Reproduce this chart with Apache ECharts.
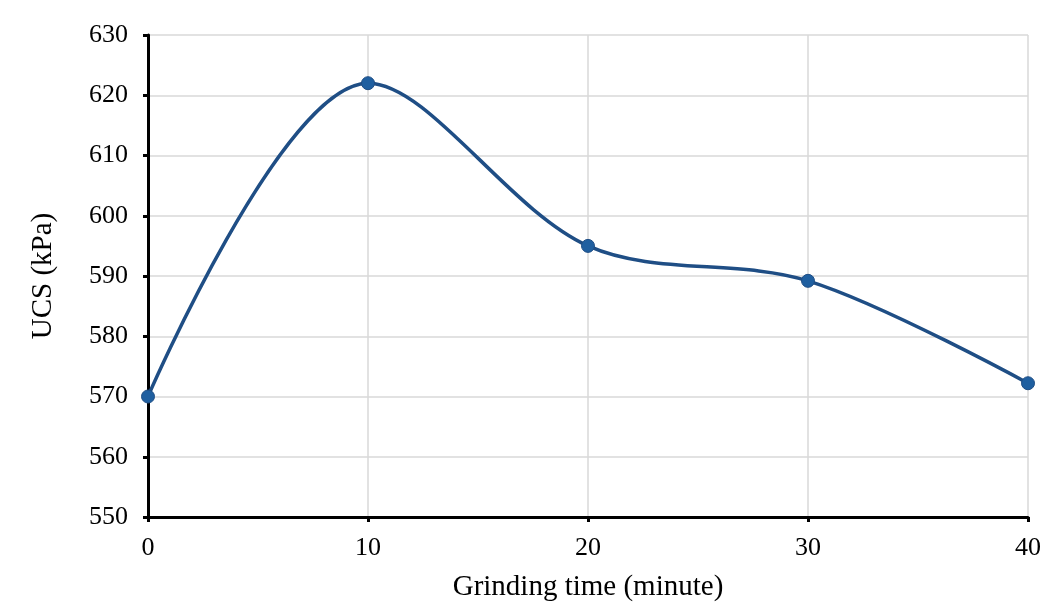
<!DOCTYPE html>
<html>
<head>
<meta charset="utf-8">
<script src="https://cdn.jsdelivr.net/npm/echarts@6/dist/echarts.min.js"></script>
<style>
html,body{margin:0;padding:0;background:#fff;}
#main{width:1049px;height:612px;}
</style>
</head>
<body>
<div id="main"></div>
<script>
var grindTime = [0, 10, 20, 30, 40];
var ucs = [570, 622, 595, 589.2, 572.2];

var font = 'Liberation Serif';
var myChart = echarts.init(document.getElementById('main'));
var option = {
    backgroundColor: '#fff',
    animation: false,
    grid: {left: 148, right: 21, top: 35, bottom: 95, outerBoundsMode: 'none', containLabel: false},
    xAxis: {
        type: 'value',
        min: 0, max: 40, interval: 10,
        name: 'Grinding time (minute)',
        nameLocation: 'middle',
        nameGap: 56,
        nameTextStyle: {fontFamily: font, fontSize: 29, color: '#000'},
        axisLine: {onZero: false, lineStyle: {color: '#000', width: 3}},
        axisTick: {show: true, length: 5, lineStyle: {color: '#000', width: 3}},
        axisLabel: {fontFamily: font, fontSize: 26, color: '#000', margin: 18},
        splitLine: {show: true, lineStyle: {color: '#d9d9d9', width: 1.5}}
    },
    yAxis: {
        type: 'value',
        min: 550, max: 630, interval: 10,
        name: 'UCS (kPa)',
        nameLocation: 'middle',
        nameGap: 90,
        nameTextStyle: {fontFamily: font, fontSize: 29, color: '#000'},
        axisLine: {show: true, lineStyle: {color: '#000', width: 3}},
        axisTick: {show: true, length: 5, lineStyle: {color: '#000', width: 3}},
        axisLabel: {fontFamily: font, fontSize: 26, color: '#000', margin: 20},
        splitLine: {show: true, lineStyle: {color: '#d9d9d9', width: 1.5}}
    },
    series: [{
        type: 'line',
        data: grindTime.map(function (t, i) { return [t, ucs[i]]; }),
        smooth: 0.33,
        symbol: 'circle',
        symbolSize: 13,
        lineStyle: {color: '#1f4e85', width: 3.5},
        itemStyle: {color: '#1f5fa0', borderColor: '#1f4e85', borderWidth: 1}
    }]
};
myChart.setOption(option);
</script>
</body>
</html>
